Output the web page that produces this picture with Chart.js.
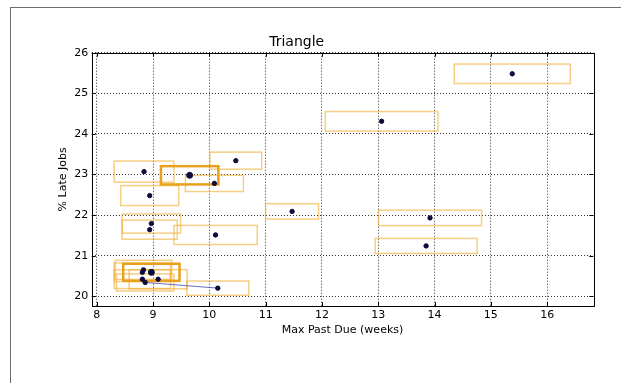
<!DOCTYPE html>
<html>
<head>
<meta charset="utf-8">
<script src="https://cdn.jsdelivr.net/npm/chart.js@4"></script>
<style>
html, body { margin: 0; padding: 0; background: #fff; }
</style>
</head>
<body>
<canvas id="triangleChart" width="621" height="383"></canvas>
<script>
const xTicks = [8, 9, 10, 11, 12, 13, 14, 15, 16];
const yTicks = [20, 21, 22, 23, 24, 25, 26];

// every run: centre point plus half-widths of its spread box
const pastDue = [15.38, 13.06, 10.47, 8.84, 10.09, 8.94, 11.47, 13.92, 8.97, 8.94, 10.11, 13.85, 8.83, 8.81, 8.81, 9.09, 8.86, 10.15];
const lateJobs = [25.48, 24.31, 23.34, 23.07, 22.78, 22.48, 22.09, 21.93, 21.79, 21.64, 21.51, 21.24, 20.65, 20.59, 20.42, 20.42, 20.34, 20.20];
const pastDueSpread = [1.03, 1.0, 0.46, 0.53, 0.515, 0.515, 0.47, 0.915, 0.52, 0.49, 0.74, 0.905, 0.5, 0.5, 0.5, 0.515, 0.51, 0.55];
const lateSpread = [0.24, 0.24, 0.21, 0.26, 0.2, 0.245, 0.19, 0.19, 0.235, 0.235, 0.235, 0.185, 0.235, 0.23, 0.23, 0.235, 0.21, 0.175];

// highlighted runs
const bestPastDue = [9.65, 8.97];
const bestLateJobs = [22.98, 20.59];
const bestPastDueSpread = [0.51, 0.5];
const bestLateSpread = [0.225, 0.21];

// connecting segment
const pathPastDue = [8.86, 10.15];
const pathLateJobs = [20.34, 20.20];

const toPoints = (xs, ys) => xs.map((v, i) => ({x: v, y: ys[i]}));

const boxPlugin = {
    id: "boxes",
    beforeDatasetsDraw(chart) {
        const {ctx, scales: {x, y}} = chart;
        const draw = (xs, ys, xe, ye, color, width) => {
            ctx.strokeStyle = color;
            ctx.lineWidth = width;
            xs.forEach((v, i) => {
                const x0 = x.getPixelForValue(v - xe[i]);
                const x1 = x.getPixelForValue(v + xe[i]);
                const y0 = y.getPixelForValue(ys[i] + ye[i]);
                const y1 = y.getPixelForValue(ys[i] - ye[i]);
                ctx.strokeRect(x0, y0, x1 - x0, y1 - y0);
            });
        };
        ctx.save();
        draw(pastDue, lateJobs, pastDueSpread, lateSpread, "rgba(240,176,56,0.62)", 1.5);
        draw(bestPastDue, bestLateJobs, bestPastDueSpread, bestLateSpread, "#e8a11c", 2.5);
        ctx.restore();
    }
};

const framePlugin = {
    id: "frame",
    beforeDraw(chart) {
        const ctx = chart.ctx;
        ctx.save();
        ctx.strokeStyle = "#6e6e6e";
        ctx.lineWidth = 1;
        ctx.strokeRect(10.5, 7.5, 1000, 1000);
        ctx.restore();
    },
    afterDraw(chart) {
        const {ctx, chartArea: a, scales: {x, y}} = chart;
        ctx.save();
        ctx.strokeStyle = "#000";
        ctx.lineWidth = 1;
        ctx.strokeRect(Math.round(a.left) + 0.5, Math.round(a.top) + 0.5,
            Math.round(a.right - a.left), Math.round(a.bottom - a.top));
        ctx.beginPath();
        xTicks.forEach(v => {
            const px = Math.round(x.getPixelForValue(v)) + 0.5;
            ctx.moveTo(px, a.bottom); ctx.lineTo(px, a.bottom - 4);
            ctx.moveTo(px, a.top); ctx.lineTo(px, a.top + 4);
        });
        yTicks.forEach(v => {
            const py = Math.round(y.getPixelForValue(v)) + 0.5;
            ctx.moveTo(a.left, py); ctx.lineTo(a.left + 4, py);
            ctx.moveTo(a.right, py); ctx.lineTo(a.right - 4, py);
        });
        ctx.stroke();
        ctx.restore();
    }
};

Chart.defaults.font.family = "'DejaVu Sans', sans-serif";
Chart.defaults.color = "#000";

const ctx = document.getElementById("triangleChart").getContext("2d");

const triangleChart = new Chart(ctx, {
    type: "scatter",
    data: {
        datasets: [{
            label: "Best",
            data: toPoints(bestPastDue, bestLateJobs),
            backgroundColor: "#0c0c3c",
            borderColor: "#0c0c3c",
            pointRadius: 3
        }, {
            label: "Runs",
            data: toPoints(pastDue, lateJobs),
            backgroundColor: "#0c0c3c",
            borderColor: "#0c0c3c",
            pointRadius: 2.2
        }, {
            label: "Path",
            data: toPoints(pathPastDue, pathLateJobs),
            showLine: true,
            borderColor: "rgba(60,60,170,0.75)",
            borderWidth: 1,
            pointRadius: 0
        }]
    },
    options: {
        responsive: false,
        animation: false,
        layout: {padding: {left: 0, right: 27.7, top: 0, bottom: 0}},
        plugins: {
            legend: {display: false},
            tooltip: {enabled: false},
            title: {
                display: true,
                text: "Triangle",
                color: "#000",
                font: {size: 14, weight: "normal"},
                padding: {top: 34, bottom: 1.9}
            }
        },
        scales: {
            x: {
                type: "linear",
                min: 7.91,
                max: 16.82,
                afterBuildTicks: s => { s.ticks = xTicks.map(v => ({value: v})); },
                afterFit: s => { s.height = 77; },
                grid: {color: "#333", lineWidth: 1, drawTicks: false},
                border: {display: false, dash: [1, 2]},
                ticks: {padding: 3, font: {size: 11}, maxRotation: 0},
                title: {
                    display: true,
                    text: "Max Past Due (weeks)",
                    font: {size: 11},
                    padding: {top: 0, bottom: 46.4}
                }
            },
            y: {
                type: "linear",
                min: 19.76,
                max: 26,
                afterBuildTicks: s => { s.ticks = yTicks.map(v => ({value: v})); },
                afterFit: s => { s.width = 91.7; },
                grid: {color: "#333", lineWidth: 1, drawTicks: false},
                border: {display: false, dash: [1, 2]},
                ticks: {padding: 3.5, font: {size: 11}},
                title: {
                    display: true,
                    text: "% Late Jobs",
                    font: {size: 11},
                    padding: {top: 56.7, bottom: 0}
                }
            }
        }
    },
    plugins: [boxPlugin, framePlugin]
});
</script>
</body>
</html>
